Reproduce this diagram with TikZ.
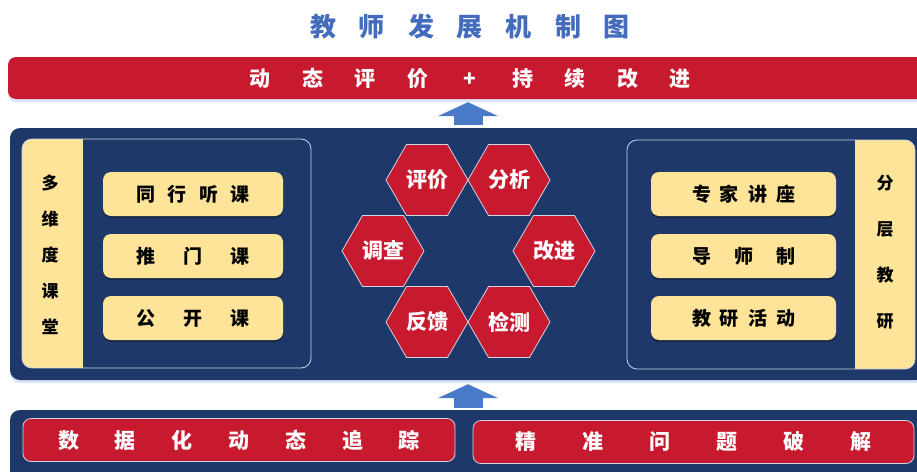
\documentclass[tikz,border=0pt]{standalone}
\usepackage{fontspec}
\newfontfamily\cjk{Noto Sans CJK SC}
\usetikzlibrary{shapes.geometric}
\usetikzlibrary{arrows.meta}
\usetikzlibrary{shadows}
\definecolor{crimson}{RGB}{200,26,46}
\definecolor{navy}{RGB}{31,56,106}
\definecolor{cream}{RGB}{253,228,152}
\definecolor{skyblue}{RGB}{72,122,200}
\definecolor{titleblue}{RGB}{68,108,188}
\definecolor{rim}{RGB}{205,212,230}
\definecolor{glow}{RGB}{185,200,238}
\makeatletter
\newcommand\spreadtext[2]{\@tfor\sp@c:=#2\do{\makebox[#1]{\sp@c}}}
\makeatother
\tikzset{heading/.style = {text = titleblue, font = \cjk\bfseries\fontsize{26}{30}\selectfont},
  bar/.style = {fill = crimson, rounded corners = 8pt, text = white, inner sep = 0,
    font = \cjk\bfseries\fontsize{21}{24}\selectfont,
    drop shadow = {shadow xshift = 0pt, shadow yshift = -3pt, fill = glow}},
  board/.style = {fill = navy, rounded corners = 10pt, inner sep = 0,
    drop shadow = {shadow xshift = 0pt, shadow yshift = -3pt, fill = glow}},
  frame/.style = {draw = rim, line width = 0.8pt, rounded corners = 10pt},
  sidetext/.style = {align = center, inner sep = 0, font = \cjk\bfseries\fontsize{17}{36}\selectfont},
  pill/.style = {fill = cream, rounded corners = 8pt, inner sep = 0, minimum height = 44pt,
    font = \cjk\bfseries\fontsize{19}{22}\selectfont,
    drop shadow = {shadow xshift = 0pt, shadow yshift = -2pt, fill = black, opacity = 0.3}},
  redpill/.style = {fill = crimson, draw = rim, line width = 0.8pt, rounded corners = 8pt,
    inner sep = 0, minimum height = 43pt, text = white, font = \cjk\bfseries\fontsize{21}{24}\selectfont},
  hexcell/.style = {regular polygon, regular polygon sides = 6, minimum size = 82pt, inner sep = 0,
    fill = crimson, draw = rim, line width = 0.8pt, text = white,
    font = \cjk\bfseries\fontsize{21}{24}\selectfont},
  lift/.style = {draw = skyblue, line width = 29pt, -{Triangle[length = 14pt, width = 60pt]}}}

\begin{document}
\begin{tikzpicture}[x = 1pt, y = -1pt]
  \useasboundingbox (0, 0) rectangle (917, 471);
  \clip (0, 0) rectangle (917, 471);
  \node[heading] (title) at (470, 27) {\spreadtext{49pt}{教师发展机制图}};
  \node[bar, minimum width = 924pt, minimum height = 42pt] (goal) at (470, 78) {\spreadtext{52.5pt}{动态评价+持续改进}};
  \node[board, minimum width = 916pt, minimum height = 252pt] (core) at (468, 254) {};
  \node[board, minimum width = 916pt, minimum height = 80pt] (base) at (468, 450) {};
  \draw[lift, shorten <= 3pt, shorten >= 3pt] (core.north) -- (core.north |- goal.south);
  \draw[lift, shorten <= 2pt, shorten >= 4pt] (base.north) -- (base.north |- core.south);
  % left panel
  \begin{scope}
    \clip[rounded corners = 10pt] (22, 139) rectangle (311, 368);
    \fill[cream] (22, 139) rectangle (83, 368);
  \end{scope}
  \draw[frame] (22, 139) rectangle (311, 368);
  \node[sidetext] (classroom) at (50, 255) {多\\维\\度\\课\\堂};
  \node[pill, minimum width = 180pt] (peer) at (193, 194) {\spreadtext{31.5pt}{同行听课}};
  \node[pill, minimum width = 180pt] (drop) at (193, 256) {\spreadtext{47.5pt}{推门课}};
  \node[pill, minimum width = 180pt] (open) at (193, 318) {\spreadtext{47.5pt}{公开课}};
  % right panel
  \begin{scope}
    \clip[rounded corners = 10pt] (627, 140) rectangle (915, 369);
    \fill[cream] (855, 140) rectangle (915, 369);
  \end{scope}
  \draw[frame] (627, 140) rectangle (915, 369);
  \node[sidetext, font = \cjk\bfseries\fontsize{17}{46}\selectfont] (layered) at (885, 252) {分\\层\\教\\研};
  \node[pill, minimum width = 185pt] (lecture) at (743.5, 194) {\spreadtext{28pt}{专家讲座}};
  \node[pill, minimum width = 185pt] (mentor) at (743.5, 256) {\spreadtext{42pt}{导师制}};
  \node[pill, minimum width = 185pt] (research) at (743.5, 318) {\spreadtext{28pt}{教研活动}};
  % cycle
  \node[hexcell] (evaluate) at (427, 180) {评价};
  \node[hexcell] (analyse) at (509, 180) {分析};
  \node[hexcell] (survey) at (383, 251) {调查};
  \node[hexcell] (improve) at (554, 251) {改进};
  \node[hexcell] (feedback) at (427, 322) {反馈};
  \node[hexcell] (check) at (509, 322) {检测};
  % base
  \node[redpill, minimum width = 432pt] (track) at (239, 440) {\spreadtext{56.8pt}{数据化动态追踪}};
  \node[redpill, minimum width = 441pt] (solve) at (693.5, 442) {\spreadtext{67pt}{精准问题破解}};
\end{tikzpicture}
\end{document}
